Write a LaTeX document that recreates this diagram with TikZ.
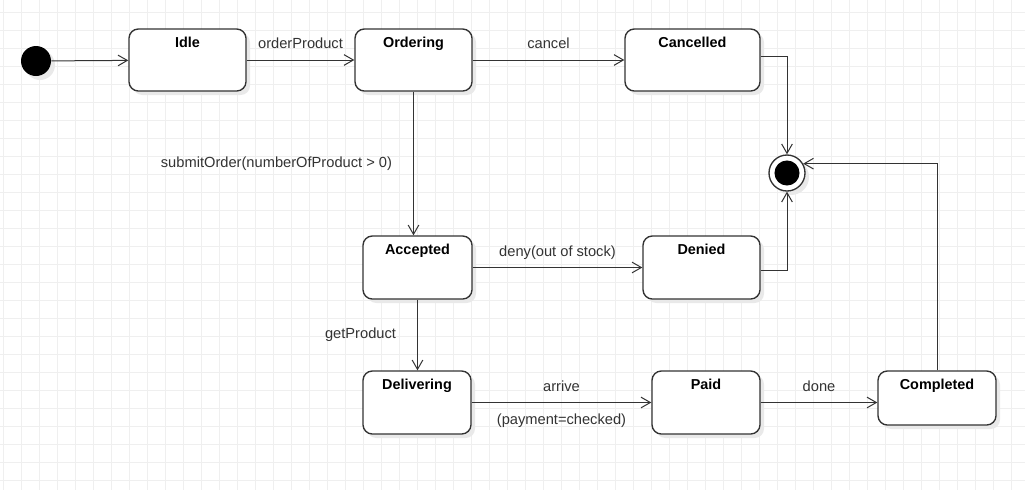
\documentclass[tikz,border=0pt]{standalone}
\usepackage{fontspec}
\setmainfont{Liberation Sans}
\usetikzlibrary{arrows.meta,shadows}
\definecolor{linegray}{HTML}{333333}
\definecolor{gridgray}{HTML}{EFEFEF}
\definecolor{shadegray}{HTML}{E9E9E9}

\tikzset{
  state/.style={draw=linegray, line width=1pt, fill=white, rounded corners=7pt,
    general shadow={fill=shadegray, shadow xshift=3pt, shadow yshift=-3pt},
    label={[anchor=base, yshift=-14pt, font=\fontsize{10.8}{13}\selectfont\bfseries]north:#1}},
  trans/.style={draw=linegray, line width=0.75pt, -{Straight Barb[length=7pt,width=8pt]}},
  lbl/.style={font=\fontsize{11}{13}\selectfont, text=linegray, inner sep=2pt,
    text height=8pt, text depth=2.5pt},
  gridline/.style={draw=gridgray, line width=0.75pt}
}

\begin{document}
\begin{tikzpicture}[x=0.75pt, y=-0.75pt]
        \useasboundingbox (0,0) rectangle (1025,490);
        \fill[white] (0,0) rectangle (1025,490); % page
        \foreach \gx in {3,21,...,1024} \draw[gridline] (\gx,0) -- (\gx,490); % grid
        \foreach \gy in {12,30,...,489} \draw[gridline] (0,\gy) -- (1025,\gy);
        % pseudo states
        \node[circle, fill=black, minimum size=22.5pt, inner sep=0pt,
          general shadow={fill=shadegray, shadow xshift=3pt, shadow yshift=-3pt}] (init) at (36,61) {};
        \node[circle, draw=linegray, line width=1pt, fill=white, minimum size=27pt, inner sep=0pt,
          general shadow={fill=shadegray, shadow xshift=3pt, shadow yshift=-3pt}] (final) at (787,173) {};
        \fill[black] (final.center) circle[radius=9.4pt];
        % states
        \node[state=Idle, minimum width=87.75pt, minimum height=46.5pt] (idle) at (187.5,60) {};
        \node[state=Ordering, minimum width=87.75pt, minimum height=46.5pt] (ordering) at (413.5,60) {};
        \node[state=Cancelled, minimum width=101.25pt, minimum height=46.5pt] (cancelled) at (692.5,60) {};
        \node[state=Accepted, minimum width=81.75pt, minimum height=47.25pt] (accepted) at (417.5,267.5) {};
        \node[state=Denied, minimum width=87.75pt, minimum height=47.25pt] (denied) at (701.5,267.5) {};
        \node[state=Delivering, minimum width=81pt, minimum height=47.25pt] (delivering) at (417,402.5) {};
        \node[state=Paid, minimum width=81pt, minimum height=47.25pt] (paid) at (706,402.5) {};
        \node[state=Completed, minimum width=88.5pt, minimum height=40.5pt] (completed) at (937,398) {};
        % transitions
        \draw[trans] (init) -- (idle);
        \draw[trans] (idle) -- node[lbl, above=3.75pt] {orderProduct} (ordering);
        \draw[trans] (ordering) -- node[lbl, above=3.75pt] {cancel} (cancelled);
        \draw[trans] ([yshift=3pt]cancelled.east) -| (final);
        \draw[trans] (ordering) -- node[lbl, left=13.75pt] {submitOrder(numberOfProduct > 0)}
          (ordering |- accepted.north);
        \draw[trans] (accepted) -- node[lbl, above=3.75pt] {deny(out of stock)} (denied);
        \draw[trans] ([yshift=-2pt]denied.east) -| (final);
        \draw[trans] (accepted) -- node[lbl, left=13.75pt] {getProduct} (accepted |- delivering.north);
        \draw[trans] (delivering) -- node[lbl, above=3.75pt] {arrive}
          node[lbl, below=6pt] {(payment=checked)} (paid);
        \draw[trans] (paid) -- node[lbl, above=3.75pt] {done} (paid -| completed.west);
        \draw[trans] (completed) |- (final.30);
      \end{tikzpicture}
\end{document}
